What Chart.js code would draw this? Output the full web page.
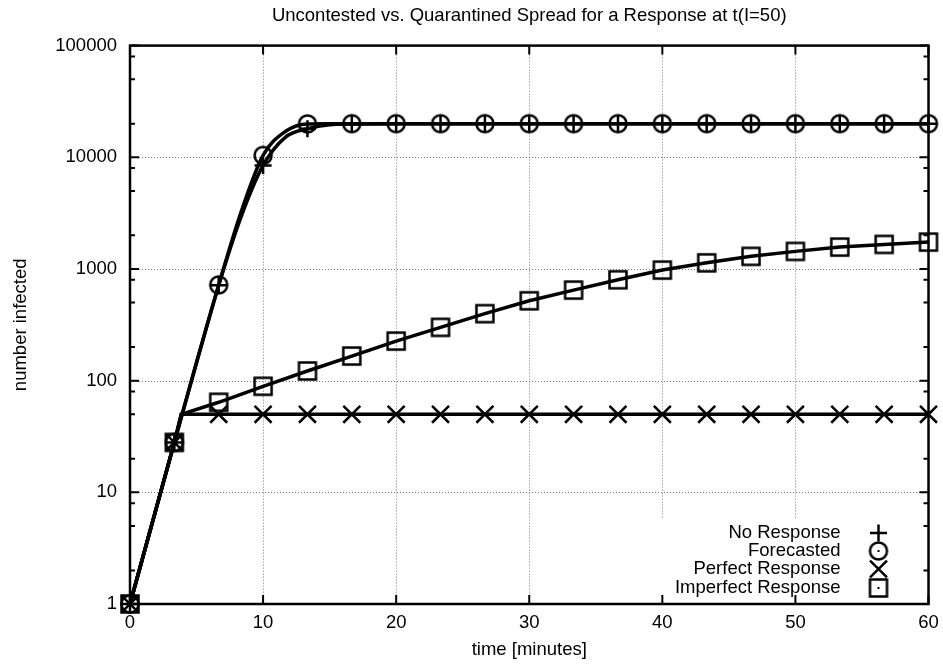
<!DOCTYPE html>
<html><head><meta charset="utf-8">
<script src="https://cdn.jsdelivr.net/npm/chart.js@4/dist/chart.umd.min.js"></script>
<style>html,body{margin:0;padding:0;background:#fff}#wrap{width:943px;height:664px}</style>
</head><body><div id="wrap"><canvas id="c" width="943" height="664"></canvas></div>
<script>
// ---- data ----
const markerTimes = [0, 3.333, 6.667, 10, 13.333, 16.667, 20, 23.333, 26.667, 30, 33.333, 36.667, 40, 43.333, 46.667, 50, 53.333, 56.667, 60];
const noResponse = [1, 28, 715, 8450, 18000, 19900, 20000, 20000, 20000, 20000, 20000, 20000, 20000, 20000, 20000, 20000, 20000, 20000, 20000];
const noResponseExtra = [[8.333, 2900], [11.667, 15100], [15, 19600]];
const forecasted = [1, 28, 720, 10400, 19900, 20000, 20000, 20000, 20000, 20000, 20000, 20000, 20000, 20000, 20000, 20000, 20000, 20000, 20000];
const forecastedExtra = [[8.333, 3200], [11.667, 17000], [15, 19950]];
const perfectResponse = [1, 28, 50, 50, 50, 50, 50, 50, 50, 50, 50, 50, 50, 50, 50, 50, 50, 50, 50];
const perfectExtra = [[3.85, 50]];
const imperfectResponse = [1, 28, 64, 89, 122, 166, 226, 300, 398, 519, 647, 800, 977, 1135, 1297, 1437, 1570, 1660, 1740];
const imperfectExtra = [[3.85, 50]];
const seriesLabels = ['No Response', 'Forecasted', 'Perfect Response', 'Imperfect Response'];
const xTicks = [0, 10, 20, 30, 40, 50, 60];
const yTicks = [1, 10, 100, 1000, 10000, 100000];
const yMinorFactors = [2, 5, 8];
const titleText = 'Uncontested vs. Quarantined Spread for a Response at t(I=50)';
const xTitle = 'time [minutes]';
const yTitle = 'number infected';

// ---- helpers ----
function buildSeries(vals, extra) {
  const pts = markerTimes.map((t, i) => ({x: t, y: vals[i], marker: true}));
  extra.forEach(([t, v]) => pts.push({x: t, y: v, marker: false}));
  pts.sort((a, b) => a.x - b.x);
  return pts;
}
function makeIcon(kind) {
  const c = document.createElement('canvas');
  c.width = 24; c.height = 24;
  const g = c.getContext('2d');
  g.strokeStyle = '#000'; g.fillStyle = '#000'; g.lineWidth = 2.5;
  if (kind === 'circle') {
    g.beginPath(); g.arc(12, 12, 8.5, 0, Math.PI * 2); g.stroke();
  } else {
    g.strokeRect(3.5, 3.5, 17, 17);
  }
  g.fillRect(11, 11, 2, 2);
  return c;
}
const circleDot = makeIcon('circle');
const squareDot = makeIcon('square');

const FONT = "'Liberation Sans', Arial, Helvetica, sans-serif";
const FS = 18.5;
Chart.defaults.font.family = FONT;
Chart.defaults.font.size = FS;
Chart.defaults.color = '#000';

function markerRadius(r) { return ctx => (ctx.raw && ctx.raw.marker) ? r : 0; }

const common = {borderColor: '#000', backgroundColor: 'rgba(0,0,0,0)', borderWidth: 3.5,
  pointBorderColor: '#000', pointBackgroundColor: 'rgba(0,0,0,0)', pointBorderWidth: 2.5, clip: false};

const datasets = [
  Object.assign({}, common, {label: seriesLabels[0], data: buildSeries(noResponse, noResponseExtra),
    cubicInterpolationMode: 'monotone', pointStyle: 'cross', pointRadius: markerRadius(8.5)}),
  Object.assign({}, common, {label: seriesLabels[1], data: buildSeries(forecasted, forecastedExtra),
    cubicInterpolationMode: 'monotone', pointStyle: circleDot, pointRadius: markerRadius(8.5)}),
  Object.assign({}, common, {label: seriesLabels[2], data: buildSeries(perfectResponse, perfectExtra),
    tension: 0, pointStyle: 'crossRot', pointRadius: markerRadius(12)}),
  Object.assign({}, common, {label: seriesLabels[3], data: buildSeries(imperfectResponse, imperfectExtra),
    tension: 0, pointStyle: squareDot, pointRadius: markerRadius(8.5)})
];

function drawMarker(ctx, style, r, x, y) {
  ctx.save();
  ctx.strokeStyle = '#000'; ctx.lineWidth = 2.5;
  if (typeof style === 'object') {
    ctx.drawImage(style, x - style.width / 2, y - style.height / 2);
  } else if (style === 'cross') {
    ctx.beginPath(); ctx.moveTo(x - r, y); ctx.lineTo(x + r, y); ctx.moveTo(x, y - r); ctx.lineTo(x, y + r); ctx.stroke();
  } else if (style === 'crossRot') {
    const d = r * Math.SQRT1_2;
    ctx.beginPath(); ctx.moveTo(x - d, y - d); ctx.lineTo(x + d, y + d); ctx.moveTo(x - d, y + d); ctx.lineTo(x + d, y - d); ctx.stroke();
  }
  ctx.restore();
}

const decor = {
  id: 'decor',
  beforeDatasetsDraw(chart) {
    const {ctx, chartArea: a, scales: {x, y}} = chart;
    ctx.save();
    ctx.strokeStyle = '#777'; ctx.lineWidth = 1; ctx.setLineDash([1, 2]);
    ctx.beginPath();
    xTicks.slice(1, -1).forEach(v => { const p = Math.round(x.getPixelForValue(v)) + 0.5; ctx.moveTo(p, a.top); ctx.lineTo(p, a.bottom); });
    yTicks.slice(1, -1).forEach(v => { const p = Math.round(y.getPixelForValue(v)) + 0.5; ctx.moveTo(a.left, p); ctx.lineTo(a.right, p); });
    ctx.stroke();
    ctx.setLineDash([]);
    ctx.fillStyle = '#fff';
    ctx.fillRect(a.right - 282, a.bottom - 85, 280, 83);
    ctx.restore();
  },
  afterDatasetsDraw(chart) {
    const {ctx, chartArea: a, scales: {x, y}} = chart;
    ctx.save();
    ctx.strokeStyle = '#000';
    ctx.lineWidth = 2;
    ctx.beginPath();
    xTicks.forEach(v => { const p = x.getPixelForValue(v); ctx.moveTo(p, a.bottom); ctx.lineTo(p, a.bottom - 9); ctx.moveTo(p, a.top); ctx.lineTo(p, a.top + 9); });
    yTicks.forEach(v => { const p = y.getPixelForValue(v); ctx.moveTo(a.left, p); ctx.lineTo(a.left + 9, p); ctx.moveTo(a.right, p); ctx.lineTo(a.right - 9, p); });
    yTicks.slice(0, -1).forEach(d => yMinorFactors.forEach(f => {
      const p = y.getPixelForValue(d * f); ctx.moveTo(a.left, p); ctx.lineTo(a.left + 5, p); ctx.moveTo(a.right, p); ctx.lineTo(a.right - 5, p);
    }));
    ctx.stroke();
    ctx.lineWidth = 2.5;
    ctx.strokeRect(a.left, a.top, a.right - a.left, a.bottom - a.top);
    // key
    ctx.font = FS + 'px ' + FONT;
    ctx.fillStyle = '#000';
    ctx.textAlign = 'right';
    ctx.textBaseline = 'middle';
    const rows = [71, 53, 35, 16];
    chart.data.datasets.forEach((ds, i) => {
      const ry = a.bottom - rows[i];
      ctx.fillText(ds.label, a.right - 88, ry);
      const r = ds.pointStyle === 'crossRot' ? 12 : 8.5;
      drawMarker(ctx, ds.pointStyle, r, a.right - 50, ry);
    });
    ctx.restore();
  }
};

new Chart(document.getElementById('c'), {
  type: 'line',
  data: {datasets},
  plugins: [decor],
  options: {
    responsive: false, animation: false, events: [],
    layout: {padding: {left: 0, right: 13, top: 0, bottom: 0}},
    plugins: {
      legend: {display: false}, tooltip: {enabled: false},
      title: {display: true, fullSize: false, text: titleText, color: '#000', font: {size: FS, weight: 'normal'}, padding: {top: 5, bottom: 18.4}}
    },
    scales: {
      x: {type: 'linear', min: 0, max: 60,
        afterBuildTicks: s => { s.ticks = xTicks.map(v => ({value: v})); },
        afterFit: s => { s.height = 60; s.paddingLeft = 0; s.paddingRight = 0; },
        ticks: {color: '#000', padding: 8, maxRotation: 0, font: {size: FS}},
        grid: {display: false, drawTicks: false}, border: {display: false},
        title: {display: true, text: xTitle, color: '#000', font: {size: FS}, padding: {top: 0, bottom: 3}}
      },
      y: {type: 'logarithmic', min: 1, max: 100000,
        afterBuildTicks: s => { s.ticks = yTicks.map(v => ({value: v})); },
        afterFit: s => { s.width = 130; s.paddingTop = 0; s.paddingBottom = 0; },
        ticks: {color: '#000', padding: 13, font: {size: FS}, callback: v => String(v)},
        grid: {display: false, drawTicks: false}, border: {display: false},
        title: {display: true, text: yTitle, color: '#000', font: {size: FS}, padding: {top: 10, bottom: 0}}
      }
    }
  }
});
</script>
</body></html>
